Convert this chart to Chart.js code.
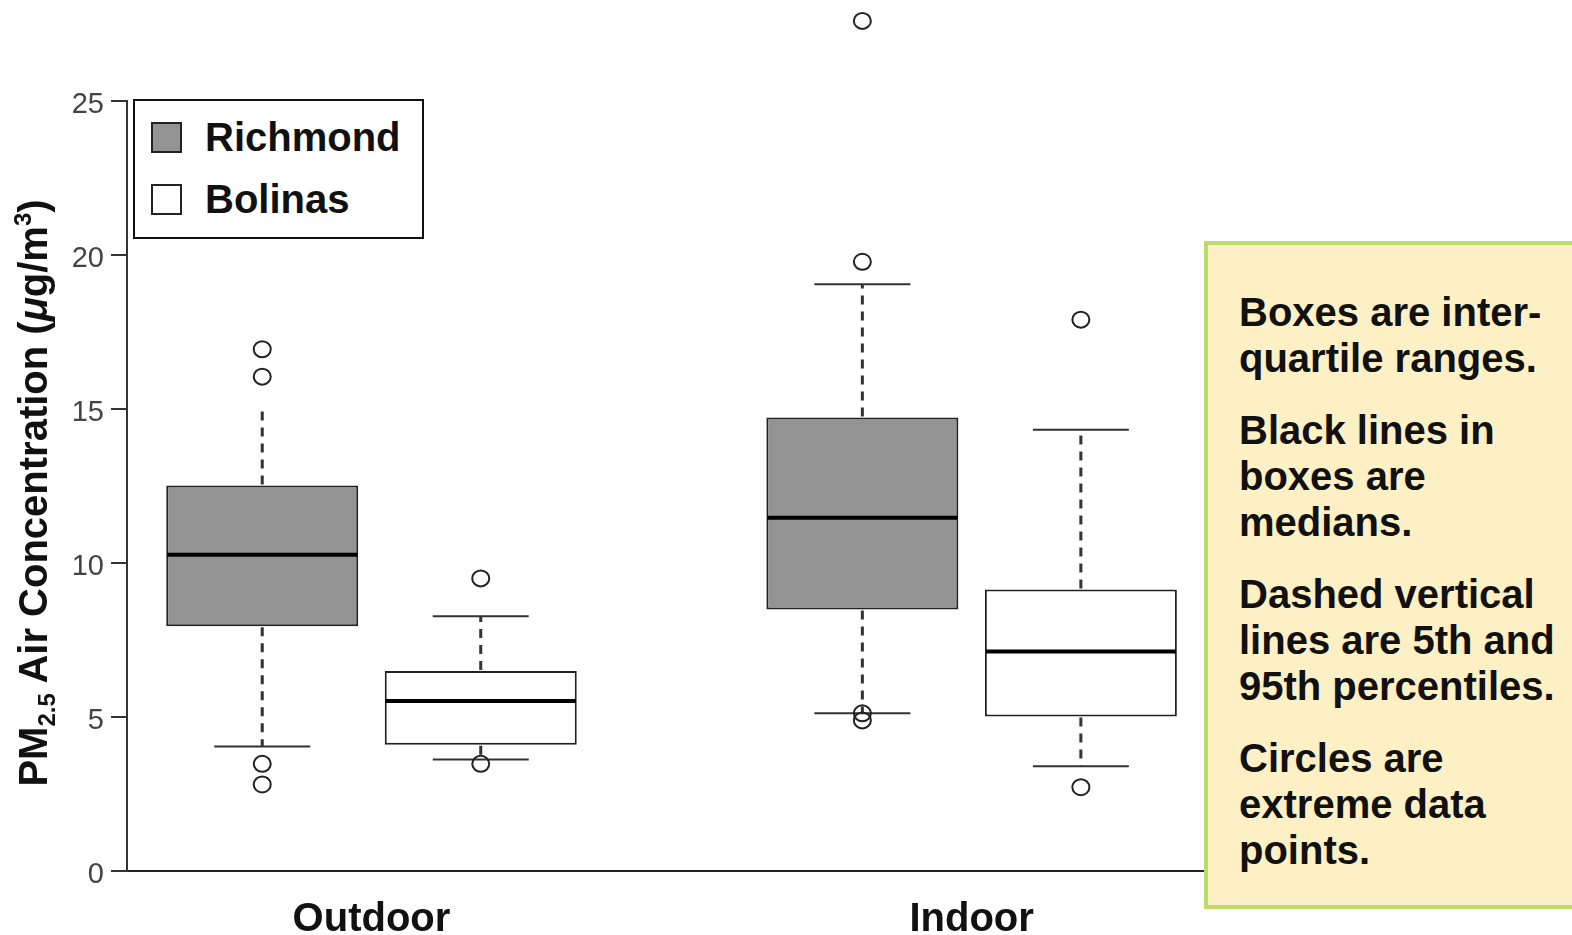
<!DOCTYPE html>
<html>
<head>
<meta charset="utf-8">
<script src="https://cdn.jsdelivr.net/npm/chart.js@4.4.1/dist/chart.umd.min.js"></script>
<style>
    body { margin: 0; background: #fff; font-family: "Liberation Sans", Arial, sans-serif; }
    #wrap { position: relative; width: 1572px; height: 935px; overflow: hidden; }
    #yTitle {
        position: absolute; left: -277px; top: 468px; width: 620px; height: 50px;
        line-height: 50px; text-align: center; font-size: 40px; font-weight: bold; color: #111;
        transform: rotate(-90deg); white-space: nowrap;
    }
    #yTitle sub { font-size: 24px; vertical-align: -8px; line-height: 0; }
    #yTitle sup { font-size: 24px; vertical-align: 16px; line-height: 0; }
    #legend {
        position: absolute; left: 133px; top: 99px; width: 287px; height: 136px;
        border: 2px solid #111; background: #fff;
    }
    .item { position: absolute; left: 16px; font-size: 40px; font-weight: bold; color: #111; line-height: 46px; }
    .sw { position: absolute; left: 0; top: 7px; width: 27px; height: 27px; border: 2px solid #222; }
    .item span.t { position: absolute; left: 54px; top: -1px; white-space: nowrap; }
    #note {
        position: absolute; left: 1204px; top: 241px; width: 400px; height: 616px;
        border: 4px solid #bddb6b; background: #fdf0c4;
        padding: 44px 0 0 31px; box-sizing: content-box;
        font-size: 40px; font-weight: bold; color: #111; line-height: 46px; white-space: nowrap;
    }
    #note p { margin: 0 0 26px 0; }
</style>
</head>
<body>
<div id="wrap">
    <canvas id="boxes"></canvas>
    <div id="yTitle">PM<sub>2.5</sub> Air Concentration (<i>μ</i>g/m<sup>3</sup>)</div>
    <div id="legend">
        <div class="item" style="top:14px"><div class="sw" style="background:#939393"></div><span class="t">Richmond</span></div>
        <div class="item" style="top:76px"><div class="sw" style="background:#fff"></div><span class="t">Bolinas</span></div>
    </div>
    <div id="note">
        <p>Boxes are inter-<br>quartile ranges.</p>
        <p>Black lines in<br>boxes are<br>medians.</p>
        <p>Dashed vertical<br>lines are 5th and<br>95th percentiles.</p>
        <p>Circles are<br>extreme data<br>points.</p>
    </div>
</div>
<script>
// groups (x categories) and y ticks
const groups = ['Outdoor', 'Indoor'];
const yTicks = [0, 5, 10, 15, 20, 25];

// Richmond
const richmondQ1 = [7.95, 8.49];
const richmondMedian = [10.27, 11.47];
const richmondQ3 = [12.52, 14.72];
const richmondLow = [4.04, 5.12];
const richmondHigh = [15.0, 19.05];
const richmondOutliers = [[16.94, 16.05, 3.48, 2.81], [27.6, 19.78, 5.12, 4.89]];

// Bolinas
const bolinasQ1 = [4.10, 5.02];
const bolinasMedian = [5.52, 7.13];
const bolinasQ3 = [6.49, 9.14];
const bolinasLow = [3.62, 3.40];
const bolinasHigh = [8.27, 14.33];
const bolinasOutliers = [[9.50, 3.48], [17.9, 2.72]];

function makeSet(label, q1, q3, med, low, high, out, color) {
    return {
        label: label,
        data: q1.map((v, i) => ({ x: i + 1, y: [v, q3[i]] })),
        medians: med,
        lows: low,
        highs: high,
        outliers: out,
        backgroundColor: color,
        borderColor: '#222',
        borderWidth: 2,
        borderSkipped: false,
        categoryPercentage: 0.7282,
        barPercentage: 0.8787
    };
}

// desenha bigodes, medianas e pontos extremos
const boxExtras = {
    id: 'boxExtras',
    afterDatasetsDraw(chart) {
        const ctx = chart.ctx;
        const y = chart.scales.y;
        chart.data.datasets.forEach((ds, d) => {
            const meta = chart.getDatasetMeta(d);
            meta.data.forEach((el, i) => {
                const cx = el.x;
                const half = el.width / 2;
                const yQ1 = y.getPixelForValue(ds.data[i].y[0]);
                const yQ3 = y.getPixelForValue(ds.data[i].y[1]);
                const yLow = y.getPixelForValue(ds.lows[i]);
                const yHigh = y.getPixelForValue(ds.highs[i]);
                ctx.save();

                // whiskers
                ctx.strokeStyle = '#333';
                ctx.lineWidth = 3;
                ctx.setLineDash([9, 7]);
                ctx.beginPath();
                ctx.moveTo(cx, yQ3 - 1);
                ctx.lineTo(cx, yHigh);
                ctx.moveTo(cx, yQ1 + 1);
                ctx.lineTo(cx, yLow);
                ctx.stroke();

                // caps (the outdoor Richmond top whisker has none)
                ctx.setLineDash([]);
                ctx.lineWidth = 2;
                ctx.beginPath();
                if (!(d === 0 && i === 0)) {
                    ctx.moveTo(cx - half / 2, yHigh);
                    ctx.lineTo(cx + half / 2, yHigh);
                }
                ctx.moveTo(cx - half / 2, yLow);
                ctx.lineTo(cx + half / 2, yLow);
                ctx.stroke();

                // median
                ctx.strokeStyle = '#000';
                ctx.lineWidth = 4;
                ctx.beginPath();
                const ym = y.getPixelForValue(ds.medians[i]);
                ctx.moveTo(cx - half + 1, ym);
                ctx.lineTo(cx + half - 1, ym);
                ctx.stroke();

                // outliers
                ctx.strokeStyle = '#222';
                ctx.lineWidth = 2;
                ds.outliers[i].forEach(v => {
                    ctx.beginPath();
                    ctx.ellipse(cx, y.getPixelForValue(v), 8.5, 8, 0, 0, Math.PI * 2);
                    ctx.stroke();
                });
                ctx.restore();
            });
        });
    }
};

const ctx = document.getElementById('boxes').getContext('2d');
const chart = new Chart(ctx, {
    type: 'bar',
    data: {
        datasets: [
            makeSet('Richmond', richmondQ1, richmondQ3, richmondMedian, richmondLow, richmondHigh, richmondOutliers, '#939393'),
            makeSet('Bolinas', bolinasQ1, bolinasQ3, bolinasMedian, bolinasLow, bolinasHigh, bolinasOutliers, '#ffffff')
        ]
    },
    options: {
        responsive: true,
        maintainAspectRatio: false,
        animation: false,
        layout: { padding: { top: 101, right: 367, left: 0, bottom: 0 } },
        plugins: {
            legend: { display: false },
            tooltip: { enabled: false }
        },
        scales: {
            x: {
                type: 'linear',
                min: 0.5926,
                max: 2.3889,
                offset: false,
                afterBuildTicks: scale => { scale.ticks = groups.map((g, i) => ({ value: i + 1 })); },
                afterFit: scale => { scale.height = 64; },
                grid: { display: false, drawTicks: false },
                border: { color: '#222', width: 2 },
                ticks: {
                    callback: v => groups[v - 1],
                    autoSkip: false,
                    maxRotation: 0,
                    padding: 25,
                    color: '#111',
                    font: { family: 'Liberation Sans', size: 40, weight: 'bold' }
                }
            },
            y: {
                min: 0,
                max: 25,
                afterBuildTicks: scale => { scale.ticks = yTicks.map(v => ({ value: v })); },
                afterFit: scale => { scale.width = 127; },
                grid: { drawOnChartArea: false, drawTicks: true, tickLength: 16, color: '#333', lineWidth: 2 },
                border: { color: '#333', width: 2 },
                ticks: {
                    padding: 7,
                    labelOffset: 4,
                    color: '#444',
                    font: { family: 'Liberation Sans', size: 29 }
                }
            }
        }
    },
    plugins: [boxExtras]
});
</script>
</body>
</html>
